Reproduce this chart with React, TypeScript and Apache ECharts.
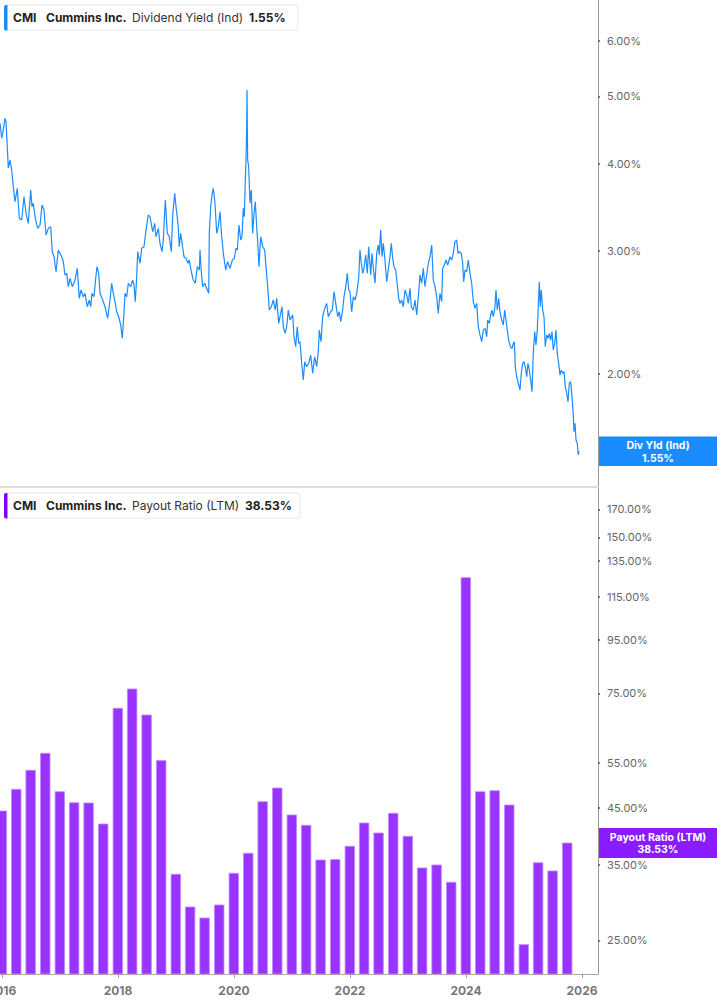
import React, { useEffect, useRef } from 'react';
import * as echarts from 'echarts';

// ---- Data ----
const ticker = 'CMI';
const company = 'Cummins Inc.';
const yieldLabel = 'Dividend Yield (Ind)';
const yieldTag = 'Div Yld (Ind)';
const payoutLabel = 'Payout Ratio (LTM)';
const payoutTag = 'Payout Ratio (LTM)';

const yearTicks = [2016, 2018, 2020, 2022, 2024, 2026];
const yieldTicks = [2, 3, 4, 5, 6];
const payoutTicks = [25, 35, 45, 55, 75, 95, 115, 135, 150, 170];

// decimal years of the daily dividend yield samples
const yieldYears = [
  2015.966, 2015.995, 2016.022, 2016.052, 2016.069, 2016.091, 2016.109, 2016.138, 2016.167, 2016.195,
  2016.224, 2016.264, 2016.298, 2016.34, 2016.379, 2016.414, 2016.453, 2016.495, 2016.517, 2016.54,
  2016.574, 2016.616, 2016.655, 2016.69, 2016.724, 2016.759, 2016.798, 2016.84, 2016.867, 2016.897,
  2016.931, 2016.971, 2017.029, 2017.057, 2017.086, 2017.116, 2017.143, 2017.172, 2017.212, 2017.259,
  2017.298, 2017.333, 2017.362, 2017.402, 2017.431, 2017.471, 2017.505, 2017.529, 2017.552, 2017.586,
  2017.616, 2017.638, 2017.667, 2017.69, 2017.736, 2017.776, 2017.822, 2017.862, 2017.891, 2017.919,
  2017.948, 2017.978, 2018.012, 2018.047, 2018.074, 2018.103, 2018.121, 2018.15, 2018.178, 2018.219,
  2018.253, 2018.276, 2018.298, 2018.322, 2018.34, 2018.379, 2018.409, 2018.448, 2018.483, 2018.522,
  2018.552, 2018.598, 2018.633, 2018.655, 2018.695, 2018.724, 2018.759, 2018.781, 2018.816, 2018.85,
  2018.884, 2018.919, 2018.943, 2018.978, 2019.0, 2019.034, 2019.057, 2019.081, 2019.109, 2019.138,
  2019.172, 2019.207, 2019.229, 2019.264, 2019.298, 2019.333, 2019.367, 2019.402, 2019.414, 2019.436,
  2019.46, 2019.495, 2019.529, 2019.564, 2019.574, 2019.598, 2019.621, 2019.643, 2019.672, 2019.702,
  2019.729, 2019.759, 2019.788, 2019.816, 2019.857, 2019.891, 2019.931, 2019.971, 2020.005, 2020.034,
  2020.057, 2020.086, 2020.116, 2020.138, 2020.16, 2020.178, 2020.195, 2020.207, 2020.219, 2020.224,
  2020.236, 2020.253, 2020.276, 2020.298, 2020.322, 2020.345, 2020.367, 2020.391, 2020.414, 2020.431,
  2020.46, 2020.495, 2020.529, 2020.552, 2020.581, 2020.609, 2020.643, 2020.678, 2020.712, 2020.736,
  2020.771, 2020.805, 2020.828, 2020.85, 2020.879, 2020.909, 2020.936, 2020.966, 2021.012, 2021.034,
  2021.064, 2021.091, 2021.116, 2021.138, 2021.167, 2021.195, 2021.219, 2021.253, 2021.288, 2021.322,
  2021.357, 2021.391, 2021.426, 2021.453, 2021.471, 2021.5, 2021.529, 2021.564, 2021.598, 2021.626,
  2021.667, 2021.695, 2021.724, 2021.759, 2021.788, 2021.816, 2021.84, 2021.874, 2021.897, 2021.931,
  2021.953, 2021.978, 2022.0, 2022.029, 2022.057, 2022.086, 2022.116, 2022.15, 2022.172, 2022.195,
  2022.219, 2022.241, 2022.271, 2022.298, 2022.322, 2022.357, 2022.379, 2022.402, 2022.431, 2022.46,
  2022.488, 2022.505, 2022.529, 2022.552, 2022.574, 2022.603, 2022.633, 2022.66, 2022.69, 2022.712,
  2022.736, 2022.759, 2022.788, 2022.816, 2022.84, 2022.862, 2022.891, 2022.919, 2022.948, 2022.978,
  2023.005, 2023.034, 2023.057, 2023.091, 2023.121, 2023.15, 2023.178, 2023.207, 2023.236, 2023.264,
  2023.293, 2023.322, 2023.35, 2023.379, 2023.409, 2023.436, 2023.466, 2023.495, 2023.522, 2023.552,
  2023.581, 2023.598, 2023.626, 2023.655, 2023.684, 2023.724, 2023.753, 2023.781, 2023.81, 2023.84,
  2023.862, 2023.884, 2023.919, 2023.943, 2023.96, 2023.983, 2024.012, 2024.04, 2024.069, 2024.098,
  2024.126, 2024.155, 2024.184, 2024.212, 2024.241, 2024.271, 2024.298, 2024.328, 2024.357, 2024.374,
  2024.402, 2024.426, 2024.448, 2024.471, 2024.5, 2024.517, 2024.54, 2024.564, 2024.586, 2024.616,
  2024.643, 2024.667, 2024.69, 2024.712, 2024.736, 2024.764, 2024.793, 2024.816, 2024.833, 2024.85,
  2024.874, 2024.902, 2024.931, 2024.953, 2024.978, 2025.0, 2025.022, 2025.047, 2025.069, 2025.091,
  2025.116, 2025.138, 2025.16, 2025.184, 2025.207, 2025.229, 2025.247, 2025.264, 2025.281, 2025.298,
  2025.322, 2025.345, 2025.367, 2025.391, 2025.414, 2025.436, 2025.46, 2025.483, 2025.505, 2025.529,
  2025.552, 2025.574, 2025.598, 2025.621, 2025.643, 2025.667, 2025.69, 2025.712, 2025.736, 2025.759,
  2025.781, 2025.805, 2025.828, 2025.85, 2025.862, 2025.879, 2025.897, 2025.919, 2025.936, 2025.948,
];

// dividend yield, percent
const yieldValues = [
  4.573, 4.357, 4.474, 4.65, 4.598, 4.234, 3.946, 4.052, 3.92, 3.71,
  3.531, 3.691, 3.343, 3.324, 3.59, 3.399, 3.288, 3.67, 3.473, 3.513,
  3.343, 3.234, 3.27, 3.493, 3.436, 3.164, 3.234, 3.252, 2.994, 2.945,
  2.803, 3.011, 2.945, 2.897, 2.773, 2.788, 2.668, 2.743, 2.668, 2.727,
  2.835, 2.567, 2.639, 2.581, 2.61, 2.497, 2.553, 2.497, 2.61, 2.581,
  2.743, 2.85, 2.788, 2.61, 2.553, 2.497, 2.403, 2.553, 2.698, 2.61,
  2.539, 2.456, 2.416, 2.351, 2.25, 2.443, 2.61, 2.581, 2.698, 2.668,
  2.727, 2.683, 2.539, 2.757, 2.994, 2.882, 3.028, 3.044, 3.216, 3.38,
  3.361, 3.198, 3.288, 3.146, 3.234, 3.078, 2.994, 3.112, 3.551, 3.182,
  3.146, 2.994, 3.38, 3.63, 3.473, 3.288, 3.044, 3.182, 3.061, 2.945,
  2.93, 2.882, 2.913, 2.803, 2.727, 2.698, 2.85, 2.819, 3.011, 2.803,
  2.668, 2.698, 2.654, 2.61, 3.182, 3.473, 3.61, 3.691, 3.513, 3.182,
  3.252, 3.417, 3.146, 2.978, 2.819, 2.897, 2.835, 2.913, 2.93, 3.028,
  3.011, 3.27, 3.112, 3.146, 3.455, 3.361, 3.793, 4.052, 4.474, 5.105,
  4.052, 3.963, 3.513, 3.67, 3.182, 3.399, 3.531, 3.252, 3.044, 2.85,
  3.146, 3.044, 3.011, 2.85, 2.668, 2.47, 2.497, 2.553, 2.47, 2.567,
  2.364, 2.443, 2.497, 2.338, 2.287, 2.338, 2.47, 2.39, 2.43, 2.262,
  2.189, 2.338, 2.213, 2.225, 2.072, 1.961, 2.083, 2.049, 2.072, 2.129,
  2.005, 2.117, 2.049, 2.153, 2.312, 2.225, 2.416, 2.484, 2.525, 2.416,
  2.456, 2.47, 2.624, 2.511, 2.416, 2.456, 2.377, 2.47, 2.581, 2.683,
  2.788, 2.639, 2.624, 2.456, 2.581, 2.553, 2.61, 2.743, 3.011, 2.882,
  2.788, 2.835, 2.962, 2.788, 3.044, 2.773, 2.978, 2.835, 2.698, 2.978,
  3.061, 2.962, 3.216, 2.945, 3.078, 2.913, 2.712, 2.819, 2.945, 3.078,
  2.93, 2.85, 2.819, 2.683, 2.567, 2.525, 2.553, 2.497, 2.639, 2.596,
  2.525, 2.654, 2.497, 2.47, 2.553, 2.43, 2.581, 2.773, 2.698, 2.835,
  2.668, 2.773, 2.882, 2.945, 3.061, 2.727, 2.668, 2.581, 2.443, 2.61,
  2.539, 2.835, 2.866, 2.913, 2.866, 2.945, 2.913, 2.978, 3.095, 3.112,
  2.978, 2.994, 2.978, 2.882, 2.712, 2.819, 2.803, 2.913, 2.788, 2.698,
  2.539, 2.484, 2.525, 2.338, 2.275, 2.225, 2.312, 2.325, 2.262, 2.39,
  2.364, 2.43, 2.47, 2.416, 2.497, 2.639, 2.47, 2.567, 2.456, 2.39,
  2.351, 2.47, 2.39, 2.312, 2.237, 2.189, 2.177, 2.213, 2.225, 2.049,
  1.982, 1.94, 1.897, 2.005, 2.072, 2.083, 2.049, 1.982, 2.072, 2.027,
  1.961, 1.887, 2.141, 2.3, 2.201, 2.312, 2.511, 2.712, 2.497, 2.639,
  2.47, 2.416, 2.189, 2.275, 2.25, 2.287, 2.237, 2.3, 2.165, 2.213,
  2.312, 2.141, 2.072, 1.993, 2.027, 2.005, 2.015, 1.918, 1.877, 1.825,
  1.94, 1.95, 1.856, 1.747, 1.653, 1.7, 1.609, 1.591, 1.531, 1.55,
];

// quarter-end dates of the LTM payout ratio
const payoutQuarters = [
  '2015-12-31',
  '2016-03-31', '2016-06-30', '2016-09-30', '2016-12-31',
  '2017-03-31', '2017-06-30', '2017-09-30', '2017-12-31',
  '2018-03-31', '2018-06-30', '2018-09-30', '2018-12-31',
  '2019-03-31', '2019-06-30', '2019-09-30', '2019-12-31',
  '2020-03-31', '2020-06-30', '2020-09-30', '2020-12-31',
  '2021-03-31', '2021-06-30', '2021-09-30', '2021-12-31',
  '2022-03-31', '2022-06-30', '2022-09-30', '2022-12-31',
  '2023-03-31', '2023-06-30', '2023-09-30', '2023-12-31',
  '2024-03-31', '2024-06-30', '2024-09-30', '2024-12-31',
  '2025-03-31', '2025-06-30', '2025-09-30',
];

// payout ratio, percent
const payoutValues = [
  44.43,
  48.93, 53.25, 57.44, 48.41,
  46.1, 46.05, 41.93, 70.17,
  76.46, 68.1, 55.6, 33.53,
  28.99, 27.61, 29.25, 33.68,
  36.82, 46.31, 49.21, 43.65,
  41.69, 35.73, 35.8, 37.98,
  42.12, 40.29, 43.98, 39.7,
  34.49, 34.95, 32.36, 125.45,
  48.41, 48.63, 45.63, 24.52,
  35.3, 34.03, 38.53,
];

// ---- helpers ----
function toDecimalYear(s: string): number {
  const t = Date.parse(s + 'T00:00:00Z');
  const y = new Date(t).getUTCFullYear();
  const a = Date.UTC(y, 0, 1);
  const b = Date.UTC(y + 1, 0, 1);
  return y + (t - a) / (b - a);
}

const FONT = 'Inter, "Noto Sans", Roboto, sans-serif';
const BLUE = '#1a8cff';
const PURPLE = '#9933ff';
const PURPLE_DARK = '#8a1cff';

export default function App() {
  const ref = useRef<HTMLDivElement>(null);

  useEffect(() => {
    document.body.style.margin = '0';
    const el = ref.current!;
    const chart = echarts.init(el, undefined, { renderer: 'svg' });

    const lineData = yieldYears.map((t, i) => [t, yieldValues[i]]);
    const barData = payoutQuarters.map((q, i) => [toDecimalYear(q), payoutValues[i]]);

    const xMin = 2015.9655;
    const xMax = 2026.276;
    const payoutMin = 21.52;
    const payoutMax = 186.9;

    const yAxisBase = (gridIndex: number, min: number, max: number, ticks: number[]) => ({
      type: 'log',
      gridIndex,
      position: 'right',
      min,
      max,
      logBase: 10,
      axisLine: { show: true, lineStyle: { color: '#9a9a9a', width: 1 } },
      axisTick: {
        show: true,
        length: 2,
        lineStyle: { color: '#555', width: 1.5 },
        customValues: ticks,
      },
      axisLabel: {
        show: true,
        customValues: ticks,
        margin: 9,
        color: '#666',
        fontSize: 11,
        fontFamily: FONT,
        formatter: (v: number) => v.toFixed(2) + '%',
      },
      splitLine: { show: false },
      minorTick: { show: false },
      minorSplitLine: { show: false },
    });

    const BAR_W = 9.5;

    chart.setOption({
      animation: false,
      backgroundColor: '#ffffff',
      grid: [
        { left: 0, right: 119, top: 0, height: 487, containLabel: false, outerBoundsMode: 'none' },
        { left: 0, right: 119, top: 488, bottom: 31, containLabel: false, outerBoundsMode: 'none' },
      ],
      xAxis: [
        {
          type: 'value',
          gridIndex: 0,
          min: xMin,
          max: xMax,
          axisLine: { show: true, lineStyle: { color: '#dddddd', width: 2 } },
          axisTick: { show: false },
          axisLabel: { show: false },
          splitLine: { show: false },
        },
        {
          type: 'value',
          gridIndex: 1,
          min: xMin,
          max: xMax,
          axisLine: { show: true, lineStyle: { color: '#a8a8a8', width: 1 } },
          axisTick: {
            show: true,
            length: 4,
            lineStyle: { color: '#999' },
            customValues: yearTicks,
          },
          axisLabel: {
            show: true,
            customValues: yearTicks,
            margin: 10,
            color: '#777',
            fontSize: 12,
            fontWeight: 'bold',
            fontFamily: FONT,
            formatter: (v: number) => String(Math.round(v)),
          },
          splitLine: { show: false },
        },
      ],
      yAxis: [
        yAxisBase(0, 1.3776, 6.87, yieldTicks),
        yAxisBase(1, payoutMin, payoutMax, payoutTicks),
      ],
      series: [
        {
          type: 'line',
          xAxisIndex: 0,
          yAxisIndex: 0,
          data: lineData,
          showSymbol: false,
          symbol: 'none',
          lineStyle: { color: BLUE, width: 1.2 },
          clip: true,
        },
        {
          type: 'custom',
          xAxisIndex: 1,
          yAxisIndex: 1,
          data: barData,
          clip: true,
          encode: { x: 0, y: 1 },
          renderItem: (params: any, api: any) => {
            const x = api.value(0);
            const v = api.value(1);
            const top = api.coord([x, v]);
            const base = api.coord([x, payoutMin]);
            return {
              type: 'rect',
              shape: { x: top[0] - BAR_W / 2, y: top[1], width: BAR_W, height: base[1] - top[1] },
              style: { fill: PURPLE, stroke: '#c08cff', lineWidth: 0.8 },
            };
          },
        },
      ],
    });

    const lastYield = yieldValues[yieldValues.length - 1];
    const lastPayout = payoutValues[payoutValues.length - 1];
    const yTag = chart.convertToPixel({ yAxisIndex: 0 }, lastYield) as number;
    const pTag = chart.convertToPixel({ yAxisIndex: 1 }, lastPayout) as number;

    const legendBox = (top: number, width: number, color: string, label: string, value: string, valueX: number) => ({
      type: 'group',
      z: 20,
      children: [
        {
          type: 'rect',
          shape: { x: 4.5, y: top, width, height: 25, r: 3 },
          style: { fill: '#ffffff', stroke: '#e6e6e6', lineWidth: 1 },
        },
        {
          type: 'rect',
          shape: { x: 4, y: top, width: 3.5, height: 25.5, r: [2, 0, 0, 2] },
          style: { fill: color },
        },
        {
          type: 'text',
          x: 13,
          y: top + 12.5,
          style: { text: ticker, fill: '#222', fontSize: 12, fontWeight: 'bold', fontFamily: FONT, verticalAlign: 'middle' },
        },
        {
          type: 'text',
          x: 46,
          y: top + 12.5,
          style: { text: company, fill: '#222', fontSize: 12, fontWeight: 'bold', fontFamily: FONT, verticalAlign: 'middle' },
        },
        {
          type: 'text',
          x: 132,
          y: top + 12.5,
          style: { text: label, fill: '#333', fontSize: 12, fontWeight: 'normal', fontFamily: FONT, verticalAlign: 'middle' },
        },
        {
          type: 'text',
          x: valueX,
          y: top + 12.5,
          style: { text: value, fill: '#222', fontSize: 12, fontWeight: 'bold', fontFamily: FONT, verticalAlign: 'middle' },
        },
      ],
    });

    const valueTag = (cy: number, h: number, color: string, name: string, value: string) => ({
      type: 'group',
      z: 20,
      children: [
        {
          type: 'rect',
          shape: { x: 598.5, y: cy - h / 2, width: 120, height: h },
          style: { fill: color },
        },
        {
          type: 'text',
          x: 658,
          y: cy + 0.5,
          style: {
            text: name + '\n' + value,
            fill: '#fff',
            fontSize: 10.5,
            lineHeight: 12.8,
            fontWeight: 'bold',
            fontFamily: FONT,
            align: 'center',
            verticalAlign: 'middle',
          },
        },
      ],
    });

    chart.setOption({
      graphic: [
        legendBox(5, 293.5, BLUE, yieldLabel, lastYield.toFixed(2) + '%', 249),
        legendBox(493, 295.5, '#8000ff', payoutLabel, lastPayout.toFixed(2) + '%', 245),
        valueTag(yTag, 29.5, BLUE, yieldTag, lastYield.toFixed(2) + '%'),
        valueTag(pTag, 30, PURPLE_DARK, payoutTag, lastPayout.toFixed(2) + '%'),
      ],
    });

    return () => {
      chart.dispose();
    };
  }, []);

  return (
    <div
      ref={ref}
      style={{ position: 'fixed', left: 0, top: 0, width: 717, height: 1005, background: '#ffffff' }}
    />
  );
}
